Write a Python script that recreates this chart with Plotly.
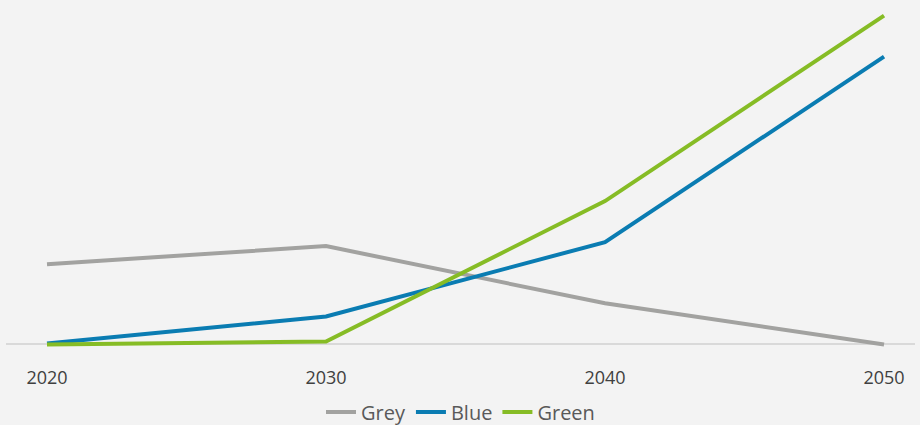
import plotly.graph_objects as go

years = [2020, 2030, 2040, 2050]
grey = [24.4, 29.9, 12.5, 0]
blue = [0.3, 8.5, 31.1, 87.5]
green = [0, 0.9, 43.6, 100]

series = [("Grey", grey, "#a2a2a0"), ("Blue", blue, "#0a7cb2"), ("Green", green, "#86bc25")]

fig = go.Figure()
for name, vals, col in series:
    fig.add_trace(go.Scatter(x=years, y=vals, name=name, mode="lines",
                             line=dict(color=col, width=4)))

fig.update_layout(
    width=920, height=425,
    paper_bgcolor="#f3f3f3", plot_bgcolor="#f3f3f3",
    margin=dict(l=6, r=5, t=9, b=74, autoexpand=False),
    font=dict(family="Open Sans", size=18, color="#404040"),
    showlegend=True,
    legend=dict(orientation="h", x=0.5, xanchor="center", y=-0.178, yanchor="middle",
                font=dict(size=20, color="#595959"), bgcolor="rgba(0,0,0,0)",
                itemwidth=30, tracegroupgap=0),
    xaxis=dict(range=[2018.53, 2051.11], tickvals=years, ticktext=[str(y) for y in years],
               showgrid=False, zeroline=False, showline=False, automargin=False,
               ticks="outside", ticklen=10, tickcolor="rgba(0,0,0,0)",
               tickfont=dict(size=18, color="#404040")),
    yaxis=dict(range=[-2, 102], showgrid=False, showticklabels=False, automargin=False,
               zeroline=True, zerolinecolor="#d9d9d9", zerolinewidth=1.5),
)

fig.write_html("out.html", config={"displayModeBar": False},
               post_script="document.body.style.margin='0';document.body.style.background='#f3f3f3';")
